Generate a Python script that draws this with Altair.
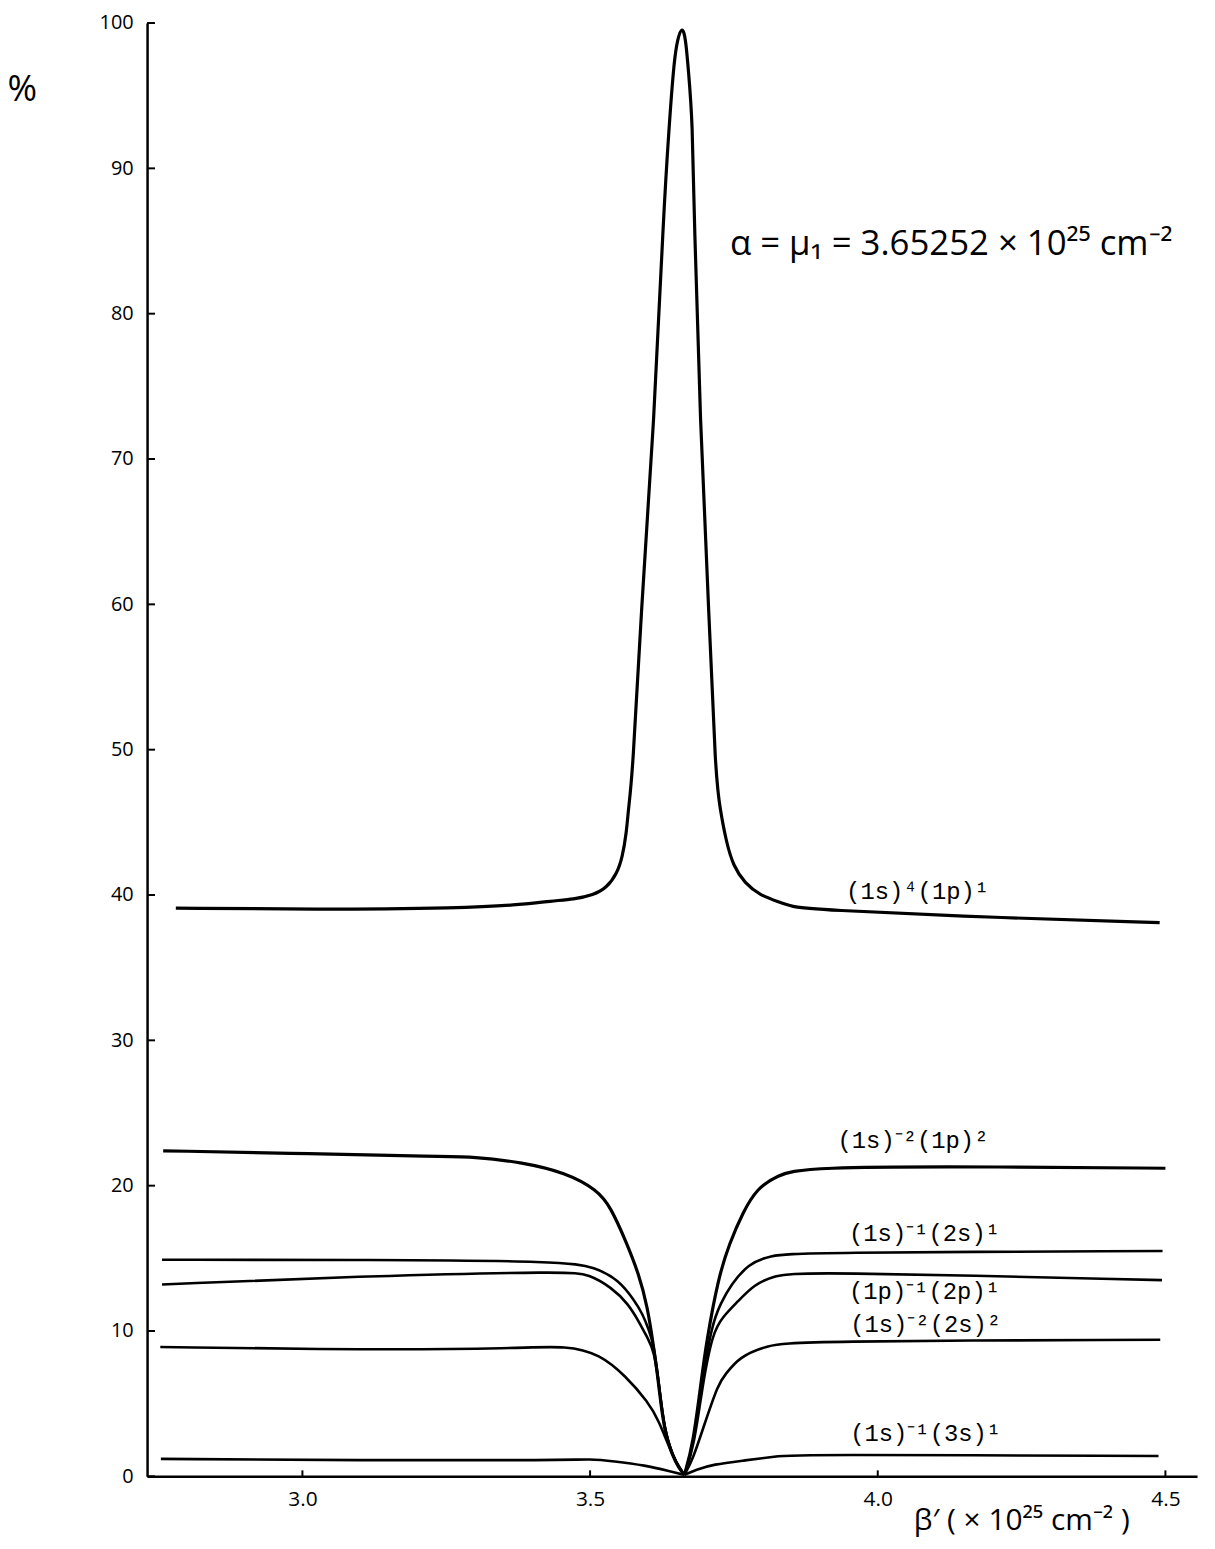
import altair as alt
import pandas as pd

# ---- values (x: beta' in 1e25 cm^-2, y: %) ----
A_x = [2.78, 3.02, 3.28, 3.37, 3.436, 3.471, 3.506, 3.529, 3.547, 3.556, 3.563, 3.567, 3.574,
       3.588, 3.612, 3.627, 3.638, 3.646, 3.652, 3.660, 3.666, 3.671, 3.678, 3.681, 3.691,
       3.707, 3.718, 3.726, 3.737, 3.749, 3.769, 3.795, 3.829, 3.851, 3.885, 4.23, 4.49]
A_y = [39.1, 39.0, 39.1, 39.3, 39.6, 39.7, 40.0, 40.5, 41.5, 42.6, 44.2, 46.1, 48.3,
       59.2, 72.9, 86.5, 93.3, 97.4, 98.9, 99.8, 99.0, 96.7, 93.3, 86.5, 72.8,
       59.1, 48.2, 45.9, 43.6, 42.0, 40.8, 40.0, 39.5, 39.2, 39.0, 38.4, 38.1]

B_left_x = [2.758, 3.017, 3.238, 3.297, 3.383, 3.457, 3.513, 3.536, 3.562, 3.585, 3.600,
            3.609, 3.619, 3.628, 3.649, 3.664]
B_left_y = [22.4, 22.2, 22.0, 22.0, 21.6, 20.9, 19.7, 18.5, 16.2, 13.9, 11.6,
            9.3, 6.5, 3.1, 0.8, 0.1]
B_right_x = [3.664, 3.679, 3.693, 3.702, 3.723, 3.742, 3.766, 3.790, 3.825, 3.872, 4.22, 4.50]
B_right_y = [0.1, 2.2, 6.5, 9.2, 13.7, 16.0, 18.2, 19.8, 20.7, 21.3, 21.3, 21.2]

C_left_x = [2.756, 3.119, 3.452, 3.509, 3.550, 3.577, 3.591, 3.603, 3.611, 3.620, 3.629, 3.650, 3.664]
C_left_y = [14.9, 14.9, 14.8, 14.4, 13.5, 12.1, 11.2, 10.0, 9.0, 6.3, 3.0, 0.8, 0.1]
C_right_x = [3.664, 3.680, 3.694, 3.712, 3.727, 3.745, 3.775, 3.811, 3.868, 4.495]
C_right_y = [0.1, 2.2, 6.4, 10.5, 11.9, 13.2, 14.6, 15.2, 15.4, 15.5]

D_left_x = [2.756, 3.118, 3.462, 3.498, 3.537, 3.566, 3.587, 3.600, 3.611, 3.621, 3.630, 3.650, 3.664]
D_left_y = [13.2, 13.8, 14.1, 13.9, 13.0, 11.9, 10.5, 9.5, 8.7, 6.0, 2.9, 0.8, 0.1]
D_right_x = [3.664, 3.681, 3.695, 3.713, 3.731, 3.756, 3.785, 3.820, 3.867, 4.494]
D_right_y = [0.1, 2.1, 6.2, 9.9, 11.0, 12.0, 13.2, 13.8, 14.1, 13.5]

E_left_x = [2.753, 3.114, 3.374, 3.460, 3.517, 3.562, 3.601, 3.619, 3.645, 3.664]
E_left_y = [8.9, 8.7, 8.8, 9.0, 8.4, 6.9, 5.1, 3.9, 1.2, 0.1]
E_right_x = [3.664, 3.679, 3.698, 3.723, 3.735, 3.759, 3.806, 3.863, 4.491]
E_right_y = [0.1, 1.2, 3.5, 6.4, 7.0, 8.2, 9.0, 9.3, 9.4]

F_left_x = [2.754, 3.108, 3.454, 3.50, 3.54, 3.597, 3.637, 3.664]
F_left_y = [1.2, 1.1, 1.1, 1.2, 1.05, 0.75, 0.37, 0.1]
F_right_x = [3.664, 3.684, 3.713, 3.770, 3.823, 3.857, 4.488]
F_right_y = [0.1, 0.45, 0.82, 1.1, 1.38, 1.5, 1.4]

label_text = ["(1s)⁴(1p)¹", "(1s)⁻²(1p)²", "(1s)⁻¹(2s)¹", "(1p)⁻¹(2p)¹", "(1s)⁻²(2s)²", "(1s)⁻¹(3s)¹"]
label_x = [3.945, 3.930, 3.950, 3.950, 3.952, 3.952]
label_y = [40.2, 23.1, 16.7, 12.7, 10.4, 2.9]

note_text = ["α = μ₁ = 3.65252 × 10²⁵ cm⁻²"]
note_x = [3.743]
note_y = [84.8]

x_ticks = [3.0, 3.5, 4.0, 4.5]
y_ticks = [0, 10, 20, 30, 40, 50, 60, 70, 80, 90, 100]

# ---- build tables ----
pieces = [
    ("A", "A", A_x, A_y),
    ("B", "B_l", B_left_x, B_left_y), ("B", "B_r", B_right_x, B_right_y),
    ("C", "C_l", C_left_x, C_left_y), ("C", "C_r", C_right_x, C_right_y),
    ("D", "D_l", D_left_x, D_left_y), ("D", "D_r", D_right_x, D_right_y),
    ("E", "E_l", E_left_x, E_left_y), ("E", "E_r", E_right_x, E_right_y),
    ("F", "F_l", F_left_x, F_left_y), ("F", "F_r", F_right_x, F_right_y),
]
rows = []
for s, b, xs, ys in pieces:
    for i, (xv, yv) in enumerate(zip(xs, ys)):
        rows.append({"series": s, "branch": b, "order": i, "x": xv, "y": yv})
lines = pd.DataFrame(rows)
labels = pd.DataFrame({"x": label_x, "y": label_y, "t": label_text})
note = pd.DataFrame({"x": note_x, "y": note_y, "t": note_text})
xt = pd.DataFrame({"v": x_ticks})
yt = pd.DataFrame({"v": y_ticks})

W, H = 1057, 1463
xs_ = alt.Scale(domain=[2.73, 4.555], nice=False, zero=False)
ys_ = alt.Scale(domain=[0, 100], nice=False, zero=False)

xaxis = alt.Axis(values=x_ticks, format=".1f", ticks=False, tickSize=0, grid=False,
                 domainColor="black", domainWidth=2.5, labelFontSize=21, labelColor="black",
                 labelFont="Open Sans", labelPadding=12,
                 title="β′ ( × 10²⁵ cm⁻² )", titleFont="Open Sans", titleFontSize=30,
                 titleFontWeight="normal", titleColor="black", titleX=880, titleY=45,
                 titleAlign="center", titleBaseline="middle")
yaxis = alt.Axis(values=y_ticks, format="d", ticks=False, tickSize=0, grid=False,
                 domainColor="black", domainWidth=2.5, labelFontSize=20, labelColor="black",
                 labelFont="Open Sans", labelPadding=14,
                 title="%", titleFont="Open Sans", titleFontSize=36, titleFontWeight="normal",
                 titleColor="black", titleAngle=0, titleX=-126, titleY=67,
                 titleAlign="center", titleBaseline="middle")

base = alt.Chart(lines)
enc = dict(
    x=alt.X("x:Q", scale=xs_, axis=xaxis),
    y=alt.Y("y:Q", scale=ys_, axis=yaxis),
    detail="branch:N",
    order="order:Q",
)
thick = base.transform_filter("datum.series == 'A' || datum.series == 'B'").mark_line(
    color="black", strokeWidth=3.2, interpolate="basis").encode(**enc)
thin = base.transform_filter("datum.series != 'A' && datum.series != 'B'").mark_line(
    color="black", strokeWidth=2.6, interpolate="basis").encode(**enc)

lab = alt.Chart(labels).mark_text(align="left", baseline="middle", font="Liberation Mono",
                                  fontSize=24, color="black").encode(
    x=alt.X("x:Q", scale=xs_), y=alt.Y("y:Q", scale=ys_), text="t:N")
nt = alt.Chart(note).mark_text(align="left", baseline="middle", font="Open Sans",
                               fontSize=35, color="black").encode(
    x=alt.X("x:Q", scale=xs_), y=alt.Y("y:Q", scale=ys_), text="t:N")

ytk = alt.Chart(yt).mark_rule(color="black", strokeWidth=2).encode(
    y=alt.Y("v:Q", scale=ys_), x=alt.value(0), x2=alt.value(8))
xtk = alt.Chart(xt).mark_rule(color="black", strokeWidth=2).encode(
    x=alt.X("v:Q", scale=xs_), y=alt.value(H), y2=alt.value(H - 6))

chart = alt.layer(thick, thin, lab, nt, ytk, xtk).properties(
    width=W, height=H,
    autosize=alt.AutoSizeParams(type="none"),
    padding={"left": 140, "top": 10, "right": 10, "bottom": 64},
    background="white",
).configure_view(stroke=None)

chart.save("out.html", embed_options={"renderer": "svg", "actions": False})
